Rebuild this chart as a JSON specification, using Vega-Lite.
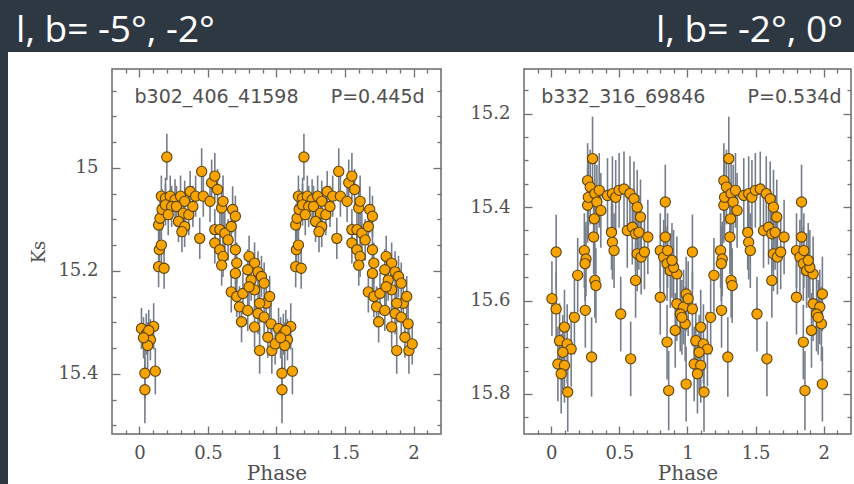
{
"$schema": "https://vega.github.io/schema/vega-lite/v6.json",
"background": "#ffffff",
"padding": 0,
"spacing": 0,
"config": {
  "view": {"stroke": "#6a6a6a", "strokeWidth": 1.5},
  "axis": {"domain": false, "grid": false, "tickColor": "#707070", "tickWidth": 1.3, "labelFont": "DejaVu Serif", "labelFontSize": 18, "labelColor": "#505050", "titleFont": "DejaVu Serif", "titleFontSize": 20, "titleColor": "#505050", "titleFontWeight": "normal", "labelOverlap": false, "labelFlush": false, "labelBound": false}
},
"datasets": {
"p1": [
{"phase":0.015,"ks":15.312,"err":0.04},{"phase":0.104,"ks":15.308,"err":0.045},{"phase":0.05,"ks":15.323,"err":0.04},{"phase":0.08,"ks":15.334,"err":0.04},{"phase":0.06,"ks":15.345,"err":0.045},{"phase":0.068,"ks":15.316,"err":0.04},{"phase":0.03,"ks":15.33,"err":0.04},{"phase":0.04,"ks":15.399,"err":0.05},{"phase":0.116,"ks":15.395,"err":0.045},{"phase":0.04,"ks":15.431,"err":0.065},
{"phase":0.14,"ks":15.192,"err":0.04},{"phase":0.18,"ks":15.195,"err":0.04},{"phase":0.145,"ks":15.159,"err":0.04},{"phase":0.16,"ks":15.15,"err":0.04},{"phase":0.14,"ks":15.111,"err":0.04},{"phase":0.15,"ks":15.098,"err":0.04},{"phase":0.165,"ks":15.081,"err":0.04},{"phase":0.2,"ks":14.979,"err":0.045},{"phase":0.16,"ks":15.055,"err":0.04},{"phase":0.19,"ks":15.059,"err":0.04},
{"phase":0.225,"ks":15.055,"err":0.04},{"phase":0.26,"ks":15.062,"err":0.04},{"phase":0.3,"ks":15.055,"err":0.04},{"phase":0.33,"ks":15.065,"err":0.04},{"phase":0.19,"ks":15.072,"err":0.04},{"phase":0.235,"ks":15.075,"err":0.04},{"phase":0.27,"ks":15.075,"err":0.04},{"phase":0.32,"ks":15.088,"err":0.04},{"phase":0.21,"ks":15.091,"err":0.04},{"phase":0.36,"ks":15.091,"err":0.04},
{"phase":0.285,"ks":15.104,"err":0.04},{"phase":0.33,"ks":15.114,"err":0.04},{"phase":0.31,"ks":15.124,"err":0.04},{"phase":0.37,"ks":15.046,"err":0.04},{"phase":0.41,"ks":15.055,"err":0.04},{"phase":0.454,"ks":15.007,"err":0.045},{"phase":0.466,"ks":15.055,"err":0.04},{"phase":0.515,"ks":15.065,"err":0.04},{"phase":0.44,"ks":15.137,"err":0.04},{"phase":0.39,"ks":15.075,"err":0.04},
{"phase":0.527,"ks":15.029,"err":0.045},{"phase":0.55,"ks":15.016,"err":0.045},{"phase":0.57,"ks":15.042,"err":0.04},{"phase":0.6,"ks":15.078,"err":0.04},{"phase":0.61,"ks":15.065,"err":0.05},{"phase":0.68,"ks":15.081,"err":0.045},{"phase":0.7,"ks":15.094,"err":0.04},{"phase":0.55,"ks":15.12,"err":0.04},{"phase":0.587,"ks":15.12,"err":0.04},{"phase":0.623,"ks":15.127,"err":0.04},
{"phase":0.647,"ks":15.14,"err":0.04},{"phase":0.55,"ks":15.146,"err":0.04},{"phase":0.587,"ks":15.159,"err":0.04},{"phase":0.61,"ks":15.172,"err":0.04},{"phase":0.6,"ks":15.189,"err":0.04},{"phase":0.67,"ks":15.114,"err":0.04},{"phase":0.7,"ks":15.159,"err":0.04},{"phase":0.71,"ks":15.185,"err":0.04},{"phase":0.7,"ks":15.205,"err":0.04},{"phase":0.67,"ks":15.241,"err":0.04},
{"phase":0.71,"ks":15.25,"err":0.04},{"phase":0.755,"ks":15.244,"err":0.04},{"phase":0.8,"ks":15.172,"err":0.04},{"phase":0.84,"ks":15.185,"err":0.04},{"phase":0.865,"ks":15.202,"err":0.04},{"phase":0.79,"ks":15.198,"err":0.04},{"phase":0.815,"ks":15.218,"err":0.04},{"phase":0.84,"ks":15.237,"err":0.04},{"phase":0.89,"ks":15.211,"err":0.04},{"phase":0.91,"ks":15.224,"err":0.04},
{"phase":0.73,"ks":15.27,"err":0.04},{"phase":0.79,"ks":15.277,"err":0.04},{"phase":0.865,"ks":15.283,"err":0.04},{"phase":0.745,"ks":15.299,"err":0.04},{"phase":0.84,"ks":15.309,"err":0.04},{"phase":0.91,"ks":15.29,"err":0.04},{"phase":0.925,"ks":15.263,"err":0.04},{"phase":0.95,"ks":15.25,"err":0.04},{"phase":0.877,"ks":15.355,"err":0.045},{"phase":0.966,"ks":15.355,"err":0.045},
{"phase":0.937,"ks":15.329,"err":0.04},{"phase":0.99,"ks":15.342,"err":0.04},{"phase":0.96,"ks":15.303,"err":0.04},{"phase":0.877,"ks":15.263,"err":0.04},{"phase":0.8,"ks":15.231,"err":0.04},
{"phase":1.015,"ks":15.312,"err":0.04},{"phase":1.104,"ks":15.308,"err":0.045},{"phase":1.05,"ks":15.323,"err":0.04},{"phase":1.08,"ks":15.334,"err":0.04},{"phase":1.06,"ks":15.345,"err":0.045},{"phase":1.068,"ks":15.316,"err":0.04},{"phase":1.03,"ks":15.33,"err":0.04},{"phase":1.04,"ks":15.399,"err":0.05},{"phase":1.116,"ks":15.395,"err":0.045},{"phase":1.04,"ks":15.431,"err":0.065},
{"phase":1.14,"ks":15.192,"err":0.04},{"phase":1.18,"ks":15.195,"err":0.04},{"phase":1.145,"ks":15.159,"err":0.04},{"phase":1.16,"ks":15.15,"err":0.04},{"phase":1.14,"ks":15.111,"err":0.04},{"phase":1.15,"ks":15.098,"err":0.04},{"phase":1.165,"ks":15.081,"err":0.04},{"phase":1.2,"ks":14.979,"err":0.045},{"phase":1.16,"ks":15.055,"err":0.04},{"phase":1.19,"ks":15.059,"err":0.04},
{"phase":1.225,"ks":15.055,"err":0.04},{"phase":1.26,"ks":15.062,"err":0.04},{"phase":1.3,"ks":15.055,"err":0.04},{"phase":1.33,"ks":15.065,"err":0.04},{"phase":1.19,"ks":15.072,"err":0.04},{"phase":1.235,"ks":15.075,"err":0.04},{"phase":1.27,"ks":15.075,"err":0.04},{"phase":1.32,"ks":15.088,"err":0.04},{"phase":1.21,"ks":15.091,"err":0.04},{"phase":1.36,"ks":15.091,"err":0.04},
{"phase":1.285,"ks":15.104,"err":0.04},{"phase":1.33,"ks":15.114,"err":0.04},{"phase":1.31,"ks":15.124,"err":0.04},{"phase":1.37,"ks":15.046,"err":0.04},{"phase":1.41,"ks":15.055,"err":0.04},{"phase":1.454,"ks":15.007,"err":0.045},{"phase":1.466,"ks":15.055,"err":0.04},{"phase":1.515,"ks":15.065,"err":0.04},{"phase":1.44,"ks":15.137,"err":0.04},{"phase":1.39,"ks":15.075,"err":0.04},
{"phase":1.527,"ks":15.029,"err":0.045},{"phase":1.55,"ks":15.016,"err":0.045},{"phase":1.57,"ks":15.042,"err":0.04},{"phase":1.6,"ks":15.078,"err":0.04},{"phase":1.61,"ks":15.065,"err":0.05},{"phase":1.68,"ks":15.081,"err":0.045},{"phase":1.7,"ks":15.094,"err":0.04},{"phase":1.55,"ks":15.12,"err":0.04},{"phase":1.587,"ks":15.12,"err":0.04},{"phase":1.623,"ks":15.127,"err":0.04},
{"phase":1.647,"ks":15.14,"err":0.04},{"phase":1.55,"ks":15.146,"err":0.04},{"phase":1.587,"ks":15.159,"err":0.04},{"phase":1.61,"ks":15.172,"err":0.04},{"phase":1.6,"ks":15.189,"err":0.04},{"phase":1.67,"ks":15.114,"err":0.04},{"phase":1.7,"ks":15.159,"err":0.04},{"phase":1.71,"ks":15.185,"err":0.04},{"phase":1.7,"ks":15.205,"err":0.04},{"phase":1.67,"ks":15.241,"err":0.04},
{"phase":1.71,"ks":15.25,"err":0.04},{"phase":1.755,"ks":15.244,"err":0.04},{"phase":1.8,"ks":15.172,"err":0.04},{"phase":1.84,"ks":15.185,"err":0.04},{"phase":1.865,"ks":15.202,"err":0.04},{"phase":1.79,"ks":15.198,"err":0.04},{"phase":1.815,"ks":15.218,"err":0.04},{"phase":1.84,"ks":15.237,"err":0.04},{"phase":1.89,"ks":15.211,"err":0.04},{"phase":1.91,"ks":15.224,"err":0.04},
{"phase":1.73,"ks":15.27,"err":0.04},{"phase":1.79,"ks":15.277,"err":0.04},{"phase":1.865,"ks":15.283,"err":0.04},{"phase":1.745,"ks":15.299,"err":0.04},{"phase":1.84,"ks":15.309,"err":0.04},{"phase":1.91,"ks":15.29,"err":0.04},{"phase":1.925,"ks":15.263,"err":0.04},{"phase":1.95,"ks":15.25,"err":0.04},{"phase":1.877,"ks":15.355,"err":0.045},{"phase":1.966,"ks":15.355,"err":0.045},
{"phase":1.937,"ks":15.329,"err":0.04},{"phase":1.99,"ks":15.342,"err":0.04},{"phase":1.96,"ks":15.303,"err":0.04},{"phase":1.877,"ks":15.263,"err":0.04},{"phase":1.8,"ks":15.231,"err":0.04}
],
"p2": [
{"phase":0.005,"ks":15.596,"err":0.08},{"phase":0.036,"ks":15.618,"err":0.08},{"phase":0.036,"ks":15.496,"err":0.08},{"phase":0.097,"ks":15.657,"err":0.08},{"phase":0.061,"ks":15.686,"err":0.08},{"phase":0.117,"ks":15.693,"err":0.085},{"phase":0.146,"ks":15.704,"err":0.08},{"phase":0.085,"ks":15.711,"err":0.08},{"phase":0.049,"ks":15.736,"err":0.08},{"phase":0.097,"ks":15.739,"err":0.08},
{"phase":0.073,"ks":15.757,"err":0.085},{"phase":0.121,"ks":15.796,"err":0.085},{"phase":0.17,"ks":15.636,"err":0.08},{"phase":0.194,"ks":15.546,"err":0.08},{"phase":0.25,"ks":15.621,"err":0.08},{"phase":0.243,"ks":15.493,"err":0.08},{"phase":0.255,"ks":15.511,"err":0.08},{"phase":0.248,"ks":15.521,"err":0.08},{"phase":0.296,"ks":15.721,"err":0.085},{"phase":0.267,"ks":15.396,"err":0.08},
{"phase":0.272,"ks":15.379,"err":0.08},{"phase":0.267,"ks":15.343,"err":0.08},{"phase":0.286,"ks":15.357,"err":0.08},{"phase":0.303,"ks":15.296,"err":0.09},{"phase":0.316,"ks":15.425,"err":0.08},{"phase":0.311,"ks":15.464,"err":0.08},{"phase":0.32,"ks":15.557,"err":0.08},{"phase":0.328,"ks":15.568,"err":0.08},{"phase":0.32,"ks":15.371,"err":0.08},{"phase":0.352,"ks":15.364,"err":0.08},
{"phase":0.335,"ks":15.389,"err":0.08},{"phase":0.364,"ks":15.407,"err":0.08},{"phase":0.413,"ks":15.375,"err":0.08},{"phase":0.449,"ks":15.371,"err":0.08},{"phase":0.473,"ks":15.379,"err":0.08},{"phase":0.498,"ks":15.364,"err":0.08},{"phase":0.449,"ks":15.475,"err":0.08},{"phase":0.461,"ks":15.493,"err":0.08},{"phase":0.442,"ks":15.454,"err":0.08},{"phase":0.51,"ks":15.629,"err":0.08},
{"phase":0.534,"ks":15.361,"err":0.08},{"phase":0.578,"ks":15.371,"err":0.08},{"phase":0.607,"ks":15.382,"err":0.08},{"phase":0.558,"ks":15.45,"err":0.08},{"phase":0.595,"ks":15.443,"err":0.08},{"phase":0.619,"ks":15.457,"err":0.08},{"phase":0.643,"ks":15.454,"err":0.08},{"phase":0.583,"ks":15.725,"err":0.08},{"phase":0.619,"ks":15.557,"err":0.08},{"phase":0.631,"ks":15.5,"err":0.08},
{"phase":0.66,"ks":15.507,"err":0.08},{"phase":0.684,"ks":15.496,"err":0.08},{"phase":0.709,"ks":15.464,"err":0.08},{"phase":0.655,"ks":15.421,"err":0.08},{"phase":0.631,"ks":15.4,"err":0.08},{"phase":0.8,"ks":15.493,"err":0.08},{"phase":0.825,"ks":15.507,"err":0.08},{"phase":0.8,"ks":15.593,"err":0.08},{"phase":0.837,"ks":15.389,"err":0.08},{"phase":0.837,"ks":15.464,"err":0.08},
{"phase":0.85,"ks":15.521,"err":0.08},{"phase":0.874,"ks":15.536,"err":0.08},{"phase":0.922,"ks":15.543,"err":0.08},{"phase":0.898,"ks":15.529,"err":0.08},{"phase":0.854,"ks":15.493,"err":0.08},{"phase":0.886,"ks":15.514,"err":0.08},{"phase":0.85,"ks":15.689,"err":0.08},{"phase":0.862,"ks":15.793,"err":0.085},{"phase":0.922,"ks":15.607,"err":0.08},{"phase":0.971,"ks":15.614,"err":0.08},
{"phase":0.99,"ks":15.586,"err":0.08},{"phase":0.947,"ks":15.629,"err":0.08},{"phase":0.91,"ks":15.664,"err":0.08},{"phase":0.983,"ks":15.65,"err":0.08},{"phase":0.959,"ks":15.636,"err":0.08},{"phase":0.99,"ks":15.779,"err":0.08},
{"phase":1.005,"ks":15.596,"err":0.08},{"phase":1.036,"ks":15.618,"err":0.08},{"phase":1.036,"ks":15.496,"err":0.08},{"phase":1.097,"ks":15.657,"err":0.08},{"phase":1.061,"ks":15.686,"err":0.08},{"phase":1.117,"ks":15.693,"err":0.085},{"phase":1.146,"ks":15.704,"err":0.08},{"phase":1.085,"ks":15.711,"err":0.08},{"phase":1.049,"ks":15.736,"err":0.08},{"phase":1.097,"ks":15.739,"err":0.08},
{"phase":1.073,"ks":15.757,"err":0.085},{"phase":1.121,"ks":15.796,"err":0.085},{"phase":1.17,"ks":15.636,"err":0.08},{"phase":1.194,"ks":15.546,"err":0.08},{"phase":1.25,"ks":15.621,"err":0.08},{"phase":1.243,"ks":15.493,"err":0.08},{"phase":1.255,"ks":15.511,"err":0.08},{"phase":1.248,"ks":15.521,"err":0.08},{"phase":1.296,"ks":15.721,"err":0.085},{"phase":1.267,"ks":15.396,"err":0.08},
{"phase":1.272,"ks":15.379,"err":0.08},{"phase":1.267,"ks":15.343,"err":0.08},{"phase":1.286,"ks":15.357,"err":0.08},{"phase":1.303,"ks":15.296,"err":0.09},{"phase":1.316,"ks":15.425,"err":0.08},{"phase":1.311,"ks":15.464,"err":0.08},{"phase":1.32,"ks":15.557,"err":0.08},{"phase":1.328,"ks":15.568,"err":0.08},{"phase":1.32,"ks":15.371,"err":0.08},{"phase":1.352,"ks":15.364,"err":0.08},
{"phase":1.335,"ks":15.389,"err":0.08},{"phase":1.364,"ks":15.407,"err":0.08},{"phase":1.413,"ks":15.375,"err":0.08},{"phase":1.449,"ks":15.371,"err":0.08},{"phase":1.473,"ks":15.379,"err":0.08},{"phase":1.498,"ks":15.364,"err":0.08},{"phase":1.449,"ks":15.475,"err":0.08},{"phase":1.461,"ks":15.493,"err":0.08},{"phase":1.442,"ks":15.454,"err":0.08},{"phase":1.51,"ks":15.629,"err":0.08},
{"phase":1.534,"ks":15.361,"err":0.08},{"phase":1.578,"ks":15.371,"err":0.08},{"phase":1.607,"ks":15.382,"err":0.08},{"phase":1.558,"ks":15.45,"err":0.08},{"phase":1.595,"ks":15.443,"err":0.08},{"phase":1.619,"ks":15.457,"err":0.08},{"phase":1.643,"ks":15.454,"err":0.08},{"phase":1.583,"ks":15.725,"err":0.08},{"phase":1.619,"ks":15.557,"err":0.08},{"phase":1.631,"ks":15.5,"err":0.08},
{"phase":1.66,"ks":15.507,"err":0.08},{"phase":1.684,"ks":15.496,"err":0.08},{"phase":1.709,"ks":15.464,"err":0.08},{"phase":1.655,"ks":15.421,"err":0.08},{"phase":1.631,"ks":15.4,"err":0.08},{"phase":1.8,"ks":15.493,"err":0.08},{"phase":1.825,"ks":15.507,"err":0.08},{"phase":1.8,"ks":15.593,"err":0.08},{"phase":1.837,"ks":15.389,"err":0.08},{"phase":1.837,"ks":15.464,"err":0.08},
{"phase":1.85,"ks":15.521,"err":0.08},{"phase":1.874,"ks":15.536,"err":0.08},{"phase":1.922,"ks":15.543,"err":0.08},{"phase":1.898,"ks":15.529,"err":0.08},{"phase":1.854,"ks":15.493,"err":0.08},{"phase":1.886,"ks":15.514,"err":0.08},{"phase":1.85,"ks":15.689,"err":0.08},{"phase":1.862,"ks":15.793,"err":0.085},{"phase":1.922,"ks":15.607,"err":0.08},{"phase":1.971,"ks":15.614,"err":0.08},
{"phase":1.99,"ks":15.586,"err":0.08},{"phase":1.947,"ks":15.629,"err":0.08},{"phase":1.91,"ks":15.664,"err":0.08},{"phase":1.983,"ks":15.65,"err":0.08},{"phase":1.959,"ks":15.636,"err":0.08},{"phase":1.99,"ks":15.779,"err":0.08}
]
},
"hconcat": [
  {
    "width": 8, "height": 484,
    "view": {"fill": "#2e3843", "stroke": null},
    "data": {"values": []},
    "mark": {"type": "point", "opacity": 0}
  },
  {
    "spacing": 0,
    "vconcat": [
      {
        "width": 846, "height": 52,
        "view": {"fill": "#2e3843", "stroke": null},
        "data": {"values": [{"left": "l, b= -5°, -2°", "right": "l, b= -2°, 0°"}]},
        "layer": [
          {"mark": {"type": "text", "align": "left", "baseline": "alphabetic", "color": "#ffffff", "font": "Open Sans", "fontSize": 37},
           "encoding": {
             "x": {"datum": 0.0095, "type": "quantitative", "scale": {"domain": [0, 1], "nice": false, "zero": false}, "axis": null},
             "y": {"datum": 0.192, "type": "quantitative", "scale": {"domain": [0, 1], "nice": false, "zero": false}, "axis": null},
             "text": {"field": "left"}}},
          {"mark": {"type": "text", "align": "right", "baseline": "alphabetic", "color": "#ffffff", "font": "Open Sans", "fontSize": 37},
           "encoding": {
             "x": {"datum": 0.987, "type": "quantitative", "axis": null},
             "y": {"datum": 0.192, "type": "quantitative", "axis": null},
             "text": {"field": "right"}}}
        ]
      },
      {
        "spacing": 21,
        "hconcat": [
          {
            "width": 1, "height": 1,
            "view": {"stroke": null},
            "data": {"values": []},
            "mark": {"type": "point", "opacity": 0}
          },
          {
            "width": 329, "height": 365,
            "data": {"name": "p1"},
            "layer": [
              {"mark": {"type": "errorbar", "color": "#767d8a", "thickness": 1.6},
               "encoding": {
                 "x": {"field": "phase", "type": "quantitative", "scale": {"domain": [-0.2, 2.2], "nice": false, "zero": false},
                       "axis": {"orient": "bottom", "values": [-0.1,0,0.1,0.2,0.3,0.4,0.5,0.6,0.7,0.8,0.9,1,1.1,1.2,1.3,1.4,1.5,1.6,1.7,1.8,1.9,2,2.1],
                                "tickSize": {"condition": {"test": "abs(datum.value*2-round(datum.value*2))<0.001", "value": -8}, "value": -4},
                                "labelExpr": "abs(datum.value*2-round(datum.value*2))<0.001 ? '' + datum.value : ''",
                                "labelPadding": 18, "title": "Phase", "titlePadding": -3}},
                 "y": {"field": "ks", "type": "quantitative", "scale": {"domain": [14.808, 15.517], "reverse": true, "nice": false, "zero": false},
                       "axis": {"orient": "left", "values": [14.85,14.9,14.95,15,15.05,15.1,15.15,15.2,15.25,15.3,15.35,15.4,15.45,15.5],
                                "tickSize": {"condition": {"test": "abs(datum.value*5-round(datum.value*5))<0.001", "value": -8}, "value": -4},
                                "labelExpr": "abs(datum.value*5-round(datum.value*5))<0.001 ? '' + datum.value : ''",
                                "labelPadding": 22, "title": "Ks", "titleFontSize": 18, "titlePadding": 9}},
                 "yError": {"field": "err"}}},
              {"mark": {"type": "point", "shape": "circle", "filled": true, "fill": "#f7a400", "stroke": "#5b4413", "strokeWidth": 1.1, "size": 105, "opacity": 1},
               "encoding": {
                 "x": {"field": "phase", "type": "quantitative",
                       "axis": {"orient": "top", "values": [-0.1,0,0.1,0.2,0.3,0.4,0.5,0.6,0.7,0.8,0.9,1,1.1,1.2,1.3,1.4,1.5,1.6,1.7,1.8,1.9,2,2.1],
                                "tickSize": {"condition": {"test": "abs(datum.value*2-round(datum.value*2))<0.001", "value": -8}, "value": -4},
                                "labels": false, "title": null, "minExtent": 16}},
                 "y": {"field": "ks", "type": "quantitative",
                       "axis": {"orient": "right", "values": [14.85,14.9,14.95,15,15.05,15.1,15.15,15.2,15.25,15.3,15.35,15.4,15.45,15.5],
                                "tickSize": {"condition": {"test": "abs(datum.value*5-round(datum.value*5))<0.001", "value": -8}, "value": -4},
                                "labels": false, "title": null}}}},
              {"data": {"values": [{"star": "b302_406_41598", "period": "P=0.445d"}]},
               "mark": {"type": "text", "align": "left", "baseline": "middle", "font": "DejaVu Sans", "fontSize": 19, "color": "#505050"},
               "encoding": {
                 "x": {"datum": -0.036, "type": "quantitative", "axis": null},
                 "y": {"datum": 14.862, "type": "quantitative", "axis": null},
                 "text": {"field": "star"}}},
              {"data": {"values": [{"star": "b302_406_41598", "period": "P=0.445d"}]},
               "mark": {"type": "text", "align": "right", "baseline": "middle", "font": "DejaVu Sans", "fontSize": 19, "color": "#505050"},
               "encoding": {
                 "x": {"datum": 2.08, "type": "quantitative", "axis": null},
                 "y": {"datum": 14.862, "type": "quantitative", "axis": null},
                 "text": {"field": "period"}}}
            ],
            "resolve": {"axis": {"x": "independent", "y": "independent"}}
          },
          {
            "width": 327, "height": 365,
            "data": {"name": "p2"},
            "layer": [
              {"mark": {"type": "errorbar", "color": "#767d8a", "thickness": 1.6},
               "encoding": {
                 "x": {"field": "phase", "type": "quantitative", "scale": {"domain": [-0.2, 2.2], "nice": false, "zero": false},
                       "axis": {"orient": "bottom", "values": [-0.1,0,0.1,0.2,0.3,0.4,0.5,0.6,0.7,0.8,0.9,1,1.1,1.2,1.3,1.4,1.5,1.6,1.7,1.8,1.9,2,2.1],
                                "tickSize": {"condition": {"test": "abs(datum.value*2-round(datum.value*2))<0.001", "value": -8}, "value": -4},
                                "labelExpr": "abs(datum.value*2-round(datum.value*2))<0.001 ? '' + datum.value : ''",
                                "labelPadding": 18, "title": "Phase", "titlePadding": -3}},
                 "y": {"field": "ks", "type": "quantitative", "scale": {"domain": [15.104, 15.886], "reverse": true, "nice": false, "zero": false},
                       "axis": {"orient": "left", "values": [15.15,15.2,15.25,15.3,15.35,15.4,15.45,15.5,15.55,15.6,15.65,15.7,15.75,15.8,15.85],
                                "tickSize": {"condition": {"test": "abs(datum.value*5-round(datum.value*5))<0.001", "value": -8}, "value": -4},
                                "labelExpr": "abs(datum.value*5-round(datum.value*5))<0.001 ? '' + datum.value : ''",
                                "labelPadding": 22, "title": null, "minExtent": 59}},
                 "yError": {"field": "err"}}},
              {"mark": {"type": "point", "shape": "circle", "filled": true, "fill": "#f7a400", "stroke": "#5b4413", "strokeWidth": 1.1, "size": 105, "opacity": 1},
               "encoding": {
                 "x": {"field": "phase", "type": "quantitative",
                       "axis": {"orient": "top", "values": [-0.1,0,0.1,0.2,0.3,0.4,0.5,0.6,0.7,0.8,0.9,1,1.1,1.2,1.3,1.4,1.5,1.6,1.7,1.8,1.9,2,2.1],
                                "tickSize": {"condition": {"test": "abs(datum.value*2-round(datum.value*2))<0.001", "value": -8}, "value": -4},
                                "labels": false, "title": null, "minExtent": 16}},
                 "y": {"field": "ks", "type": "quantitative",
                       "axis": {"orient": "right", "values": [15.15,15.2,15.25,15.3,15.35,15.4,15.45,15.5,15.55,15.6,15.65,15.7,15.75,15.8,15.85],
                                "tickSize": {"condition": {"test": "abs(datum.value*5-round(datum.value*5))<0.001", "value": -8}, "value": -4},
                                "labels": false, "title": null}}}},
              {"data": {"values": [{"star": "b332_316_69846", "period": "P=0.534d"}]},
               "mark": {"type": "text", "align": "left", "baseline": "middle", "font": "DejaVu Sans", "fontSize": 19, "color": "#505050"},
               "encoding": {
                 "x": {"datum": -0.073, "type": "quantitative", "axis": null},
                 "y": {"datum": 15.164, "type": "quantitative", "axis": null},
                 "text": {"field": "star"}}},
              {"data": {"values": [{"star": "b332_316_69846", "period": "P=0.534d"}]},
               "mark": {"type": "text", "align": "right", "baseline": "middle", "font": "DejaVu Sans", "fontSize": 19, "color": "#505050"},
               "encoding": {
                 "x": {"datum": 2.13, "type": "quantitative", "axis": null},
                 "y": {"datum": 15.164, "type": "quantitative", "axis": null},
                 "text": {"field": "period"}}}
            ],
            "resolve": {"axis": {"x": "independent", "y": "independent"}}
          }
        ]
      }
    ]
  }
]
}
